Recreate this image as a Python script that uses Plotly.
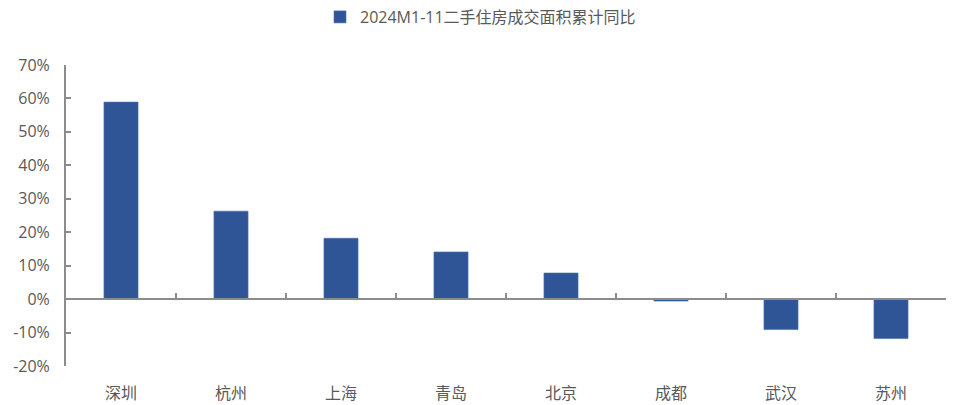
import plotly.graph_objects as go

cities = ["深圳", "杭州", "上海", "青岛", "北京", "成都", "武汉", "苏州"]
yoy = [58.9, 26.3, 18.2, 14.1, 7.8, -0.6, -9.1, -11.8]
series_name = "2024M1-11二手住房成交面积累计同比"
y_ticks = [-20, -10, 0, 10, 20, 30, 40, 50, 60, 70]

W, H = 956, 405
ml, mr, mt, mb = 66, 10, 65, 39
ymin, ymax = -20, 70

font_family = "Open Sans, Noto Sans CJK SC, sans-serif"
text_color = "#595959"
axis_color = "#8c8c8c"
bar_color = "#2F5597"

fig = go.Figure()
fig.add_trace(go.Bar(
    x=cities, y=yoy, name=series_name,
    marker=dict(color=bar_color, line=dict(color="#4a6fb0", width=0.6)),
    width=0.31, xaxis="x2", yaxis="y", showlegend=True,
))
# invisible carrier for the bottom category labels
fig.add_trace(go.Scatter(
    x=cities, y=[0] * len(cities), mode="none", showlegend=False,
    hoverinfo="skip", xaxis="x", yaxis="y",
))

zero_pos = (0 - ymin) / (ymax - ymin)

fig.update_layout(
    width=W, height=H,
    margin=dict(l=ml, r=mr, t=mt, b=mb, autoexpand=False),
    paper_bgcolor="white", plot_bgcolor="white",
    font=dict(family=font_family, size=15, color=text_color),
    showlegend=True,
    legend=dict(
        orientation="h", xref="container", yref="container",
        x=320 / W, xanchor="left",
        y=1, yanchor="top",
        font=dict(size=16, color=text_color),
        itemwidth=30, bgcolor="rgba(0,0,0,0)",
    ),
    xaxis=dict(
        type="category", categoryorder="array", categoryarray=cities,
        showline=False, showgrid=False, zeroline=False, ticks="",
        tickfont=dict(size=16, color=text_color),
        ticklabelstandoff=16, automargin=False,
    ),
    xaxis2=dict(
        type="category", categoryorder="array", categoryarray=cities,
        overlaying="x", matches="x", anchor="free", position=zero_pos,
        side="bottom",
        showline=True, linecolor=axis_color, linewidth=2,
        showgrid=False, zeroline=False, showticklabels=False,
        ticks="inside", tickson="boundaries", ticklen=5,
        tickcolor=axis_color, tickwidth=2, automargin=False,
    ),
    yaxis=dict(
        range=[ymin, ymax], tickmode="array", tickvals=y_ticks,
        ticktext=[f"{v}%" for v in y_ticks],
        showline=True, linecolor=axis_color, linewidth=2,
        showgrid=False, zeroline=False,
        ticks="inside", ticklen=5, tickcolor=axis_color, tickwidth=2,
        tickfont=dict(size=16, color=text_color),
        ticklabelstandoff=11, automargin=False,
    ),
    bargap=0.69,
)

fig.write_html("out.html")
